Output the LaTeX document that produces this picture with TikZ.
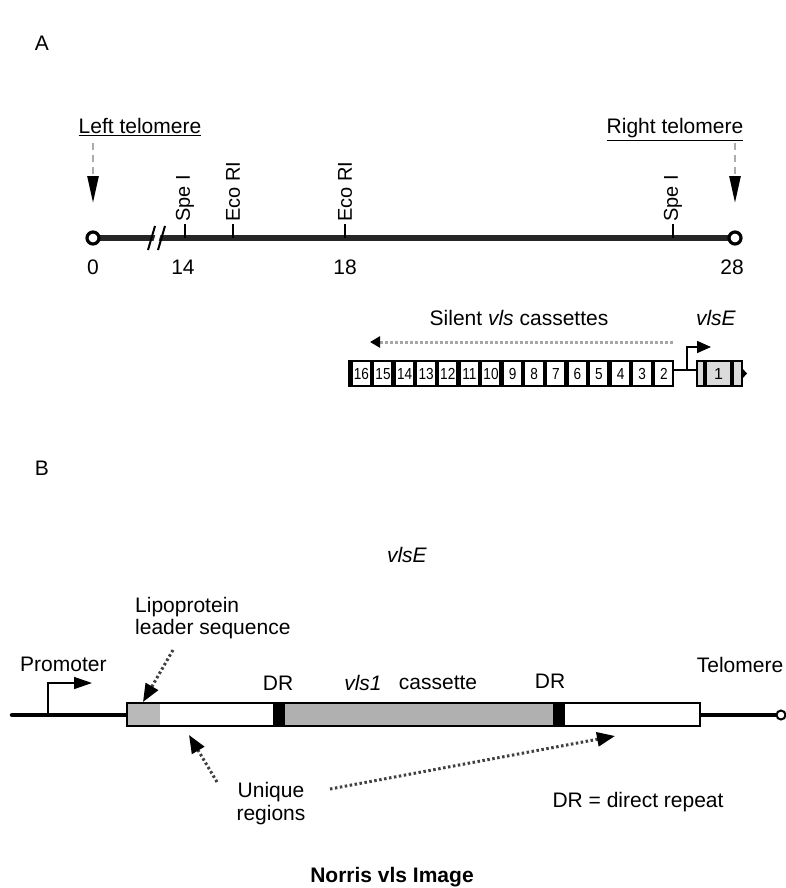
\documentclass[tikz,border=0pt]{standalone}
\usepackage{fontspec}
\setmainfont{Liberation Sans}
\usetikzlibrary{arrows.meta}
\begin{document}
\begin{tikzpicture}[x=1pt,y=-1pt,
  lbl/.style={font=\fontsize{21}{24}\selectfont, inner sep=0pt},
  rlbl/.style={font=\fontsize{20}{24}\selectfont, inner sep=0pt, rotate=90, anchor=west},
  num/.style={font=\fontsize{16}{18}\selectfont, inner sep=0pt},
  chrom/.style={line width=5.5pt, black!85},
  endcirc/.style={circle, draw=black, line width=3.2pt, fill=white, minimum size=12pt, inner sep=0pt},
  tick/.style={line width=1.8pt},
  telarrow/.style={draw=gray!65, line width=2.6pt, dash pattern=on 7pt off 5pt, -{Triangle[length=27pt,width=11pt,color=black]}},
  casarrow/.style={draw=gray!70, line width=3pt, dash pattern=on 3pt off 2pt, -{Triangle[length=10pt,width=11pt,color=black]}},
  dotarrow/.style={draw=black!75, line width=3pt, dash pattern=on 2.5pt off 2.5pt, -{Triangle[length=18pt,width=14pt,color=black]}},
  promarrow/.style={line width=1.4pt, -{Triangle[length=18pt,width=12pt]}},
  cbox/.style={draw=black, line width=1.6pt, fill=white},
]
\useasboundingbox (0,0) rectangle (786,888);

% ---------------- Part A ----------------
\node[lbl] (A) at (42,43) {A};
\node[lbl, anchor=base] (lt) at (140,134) {\underline{Left telomere}};
\node[lbl, anchor=base] (rt) at (675,134) {\underline{Right telomere}};

\coordinate (L0) at (93,238);
\coordinate (L28) at (735,238);
\coordinate (ltA) at (93,143);
\coordinate (ltB) at (93,203);
\coordinate (rtA) at (735,143);
\coordinate (rtB) at (735,203);
\draw[telarrow] (ltA) -- (ltB);
\draw[telarrow] (rtA) -- (rtB);

\draw[chrom] (L0) -- (L28);
% break mark
\fill[white] (151,250) -- (158,226) -- (163,226) -- (156,250) -- cycle;
\draw[line width=2pt] (148,250) -- (155,226);
\draw[line width=2pt] (158,250) -- (165,226);
\node[endcirc] (c0) at (L0) {};
\node[endcirc] (c28) at (L28) {};

% restriction sites
\foreach \xx/\nm/\txt in {185/s1/Spe I, 233/e1/Eco RI, 345/e2/Eco RI, 673/s2/Spe I}{
  \draw[tick] (\xx,238) -- (\xx,224);
  \node[rlbl] (\nm) at (\xx,222) {\txt};
}

\node[lbl] (n0) at (93,267) {0};
\node[lbl] (n14) at (183,267) {14};
\node[lbl] (n18) at (345,267) {18};
\node[lbl] (n28) at (732,267) {28};

% cassettes
\node[lbl] (silent) at (519,318) {Silent \textit{vls} cassettes};
\node[lbl] (vlsEa) at (716,318) {\textit{vlsE}};
\coordinate (caA) at (673,342);
\coordinate (caB) at (370,342);
\draw[casarrow] (caA) -- (caB);

\foreach \k in {2,...,16}{
  \pgfmathsetmacro\xl{673-21.6*(\k-1)}
  \draw[cbox] (\xl,361) rectangle (\xl+21.6,386);
  \draw[line width=3.6pt] (\xl+1.8,361) -- (\xl+1.8,386);
  \node[num, xscale=0.85] (cas\k) at (\xl+12.4,374) {\k};
}
\coordinate (j1) at (673,370);
\coordinate (j2) at (697,370);
\draw[line width=1.6pt] (j1) -- (j2);
\coordinate (fl) at (687,370);
\draw[line width=1.6pt, -{Triangle[length=14pt,width=12pt]}] (fl) -- (687,347) -- (711,347);
\draw[cbox, fill=gray!28] (697,361) rectangle (742,386);
\draw[line width=3.4pt] (705,361) -- (705,386);
\draw[line width=3.4pt] (732,361) -- (732,386);
\fill (742,368) -- (747,373.5) -- (742,379) -- cycle;
\node[num] (cas1) at (718.5,374) {1};

% ---------------- Part B ----------------
\node[lbl] (B) at (42,468) {B};
\node[lbl] (vlsEb) at (407,555) {\textit{vlsE}};
\node[lbl, anchor=base west] (lipo1) at (135,612) {Lipoprotein};
\node[lbl, anchor=base west] (lipo2) at (135,634) {leader sequence};
\node[lbl, anchor=base west] (prom) at (20,671) {Promoter};
\node[lbl] (tel) at (740,665) {Telomere};

\coordinate (b0) at (12,715);
\coordinate (bs) at (127,715);
\coordinate (be) at (700,715);
\coordinate (bt) at (777,715);
\draw[line width=4.5pt, line cap=round] (b0) -- (bs);
\draw[line width=3.4pt] (be) -- (bt);
\node[circle, draw=black, line width=2pt, fill=white, minimum size=9pt, inner sep=0pt] (tc) at (781,715) {};

% gene box
\fill[gray!55] (127,703) rectangle (160,726);
\fill[white] (160,703) rectangle (273,726);
\fill[black] (273,703) rectangle (285,726);
\fill[gray!62] (285,703) rectangle (553,726);
\fill[black] (553,703) rectangle (565,726);
\fill[white] (565,703) rectangle (700,726);
\draw[line width=2pt] (127,703) rectangle (700,726);

\draw[promarrow] (48,715) -- (48,683) -- (92,683);

\node[lbl] (dr1) at (278,683) {DR};
\node[lbl] (dr2) at (550,681) {DR};
\node[lbl] (vls1) at (363,683) {\textit{vls1}};
\node[lbl] (cass) at (438,683) {cassette};

\coordinate (la) at (173,650);
\coordinate (lb) at (143,702);
\draw[dotarrow] (la) -- (lb);

\node[lbl, anchor=base] (uniq1) at (271,797) {Unique};
\node[lbl, anchor=base] (uniq2) at (271,820) {regions};
\coordinate (ua) at (217,782);
\coordinate (ub) at (189,735);
\draw[dotarrow] (ua) -- (ub);
\coordinate (uc) at (330,789);
\coordinate (ud) at (615,736);
\draw[dotarrow] (uc) -- (ud);

\node[lbl] (drdef) at (638,802) {DR = direct repeat};
\node[lbl, font=\fontsize{21}{24}\selectfont\bfseries] (title) at (392,877) {Norris vls Image};
\end{tikzpicture}
\end{document}
